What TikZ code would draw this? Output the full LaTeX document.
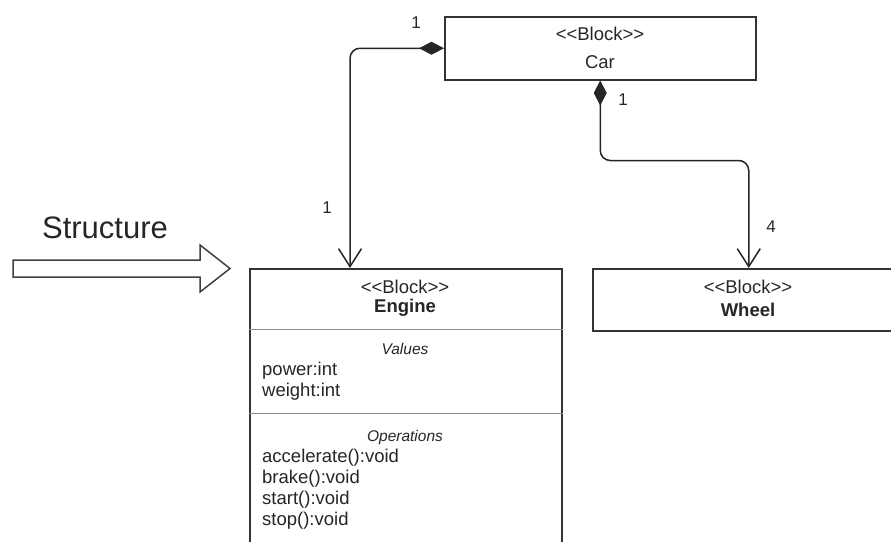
\documentclass[tikz,border=0pt]{standalone}
\usepackage{fontspec}
\setmainfont{Liberation Sans}
\usetikzlibrary{arrows.meta}
% separate boxes keep the angle brackets from being joined into guillemets
\newcommand{\blockstereo}{\mbox{<}\mbox{<}Block\mbox{>}\mbox{>}}
\begin{document}
\begin{tikzpicture}[x=1pt,y=-1pt,
  ink/.style={draw=black!80, line width=1.5pt},
  block/.style={ink, fill=white, rectangle, inner sep=0pt, anchor=north west},
  txt/.style={text=black!85, inner sep=0pt, font=\fontsize{18.5}{21}\selectfont},
  blockname/.style={txt, font=\fontsize{18.5}{21}\selectfont\bfseries},
  sectitle/.style={txt, font=\fontsize{15.5}{18}\selectfont\itshape},
  member/.style={txt, anchor=west},
  mult/.style={txt, font=\fontsize{17}{20}\selectfont},
  divider/.style={draw=black!45, line width=1pt},
  conn/.style={draw=black!85, line width=1.5pt, rounded corners=10pt,
    arrows={Diamond[length=25pt,width=13pt]-Straight Barb[length=18pt,width=23pt]}}
]
\path[use as bounding box] (0,0) rectangle (891,541);
\clip (0,0) rectangle (891,541);

% blocks
\node[block, minimum width=311pt, minimum height=63pt] (car) at (444,16) {};
\node[block, minimum width=312pt, minimum height=292pt] (engine) at (249,268) {};
\node[block, minimum width=312pt, minimum height=62pt] (wheel) at (592,268) {};

% Car
\node[txt] (carst) at (600,34) {\blockstereo};
\node[txt] (carname) at (600,62) {Car};

% Engine
\node[txt] (engst) at (405,287) {\blockstereo};
\node[blockname] (engname) at (405,308) {Engine};
\draw[divider] (engine.west |- 0,329) -- (engine.east |- 0,329);
\node[sectitle] (values) at (405,349) {Values};
\node[member] (power) at (262,371) {power:int};
\node[member] (weight) at (262,392) {weight:int};
\draw[divider] (engine.west |- 0,413) -- (engine.east |- 0,413);
\node[sectitle] (ops) at (405,437) {Operations};
\node[member] (accel) at (262,458) {accelerate():void};
\node[member] (brake) at (262,479) {brake():void};
\node[member] (start) at (262,500) {start():void};
\node[member] (stop) at (262,521) {stop():void};

% Wheel
\node[txt] (whst) at (748,287) {\blockstereo};
\node[blockname] (whname) at (748,310) {Wheel};

% compositions
\draw[conn] (car.west) -| ([xshift=101pt]engine.north west);
\draw[conn] (car.south) -- ++(0,80) -| (wheel.north);

% multiplicities
\node[mult] (m1) at (416,23) {1};
\node[mult] (m2) at (623,100) {1};
\node[mult] (m3) at (327,208) {1};
\node[mult] (m4) at (771,227) {4};

% structure arrow
\node[txt, font=\fontsize{31}{36}\selectfont, anchor=base] (structure) at (105,238) {Structure};
\draw[draw=black!75, line width=1.5pt, fill=white, line join=miter]
  (13,260) -- (200,260) -- (200,245) -- (230,268.5) -- (200,292) -- (200,277) -- (13,277) -- cycle;
\end{tikzpicture}
\end{document}
